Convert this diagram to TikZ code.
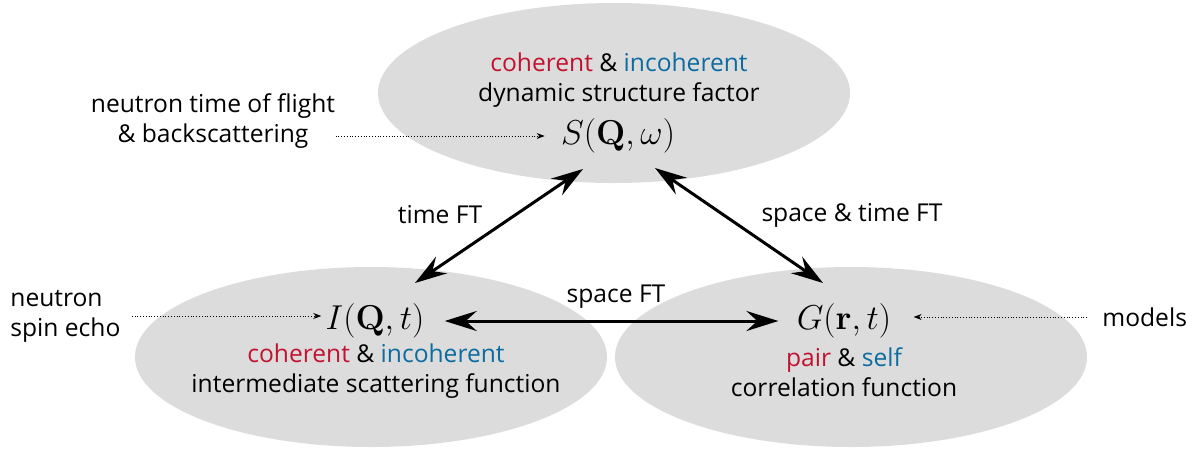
\documentclass[tikz,border=0pt]{standalone}
\usepackage[no-math]{fontspec}
\setmainfont{Open Sans}
\usetikzlibrary{shapes.geometric,arrows.meta}
\definecolor{cohred}{RGB}{193,18,48}
\definecolor{incblue}{RGB}{12,108,160}
\definecolor{blobgray}{RGB}{220,220,220}
\newcommand{\cohtxt}[1]{\textcolor{cohred}{#1}}
\newcommand{\inctxt}[1]{\textcolor{incblue}{#1}}
\begin{document}
\begin{tikzpicture}[x=0.5pt,y=-0.5pt,
    blob/.style={ellipse,fill=blobgray,minimum width=236pt,minimum height=90pt,inner sep=0pt},
    txt/.style={align=center,font=\fontsize{12.3}{15}\selectfont,inner sep=0pt},
    fn/.style={font=\fontsize{18}{21}\selectfont,inner sep=2pt},
    ft/.style={{Stealth[length=16pt,width=10pt,inset=5.5pt]}-{Stealth[length=16pt,width=10pt,inset=5.5pt]},line width=1.5pt},
    probe/.style={-{Stealth[length=4pt,width=3pt]},densely dotted,line width=0.4pt}]
    \useasboundingbox (0,0) rectangle (1186,450);

    % The three functions
    \node[blob] (top) at (614,93) {};
    \node[blob] (left) at (371,357) {};
    \node[blob] (right) at (851,357) {};

    \node[txt] (sqwtxt) at (619,80) {\cohtxt{coherent} \& \inctxt{incoherent}\\dynamic structure factor};
    \node[fn] (sqw) at (618,136) {$S(\mathbf{Q},\omega)$};

    \node[fn] (iqt) at (375,321) {$I(\mathbf{Q},t)$};
    \node[txt] (iqttxt) at (376,371) {\cohtxt{coherent} \& \inctxt{incoherent}\\intermediate scattering function};

    \node[fn] (grt) at (844,321) {$G(\mathbf{r},t)$};
    \node[txt] (grttxt) at (844,372) {\cohtxt{pair} \& \inctxt{self}\\correlation function};

    % Fourier transforms
    \coordinate (sqwL) at (583,169);
    \coordinate (sqwR) at (655,168);
    \coordinate (iqtU) at (415,283);
    \coordinate (grtU) at (823,283);
    \draw[ft] (iqtU) -- (sqwL);
    \draw[ft] (grtU) -- (sqwR);
    \draw[ft,shorten <=8pt,shorten >=7pt] (iqt.east) -- (grt.west);

    \node[txt] (tft) at (440,215) {time FT};
    \node[txt] (stft) at (852,215) {space \& time FT};
    \node[txt] (sft) at (616,297) {space FT};

    % Where the data come from
    \node[txt] (tof) at (213,121) {neutron time of flight\\\& backscattering};
    \node[txt,align=left,anchor=west] (nse) at (10,316) {neutron\\spin echo};
    \node[txt,anchor=west] (models) at (1102,317) {models};

    \draw[probe,shorten >=6pt] (tof.east |- sqw) -- (sqw.west);
    \draw[probe,shorten <=5.5pt] (nse.east) -- (nse.east -| iqt.west);
    \draw[probe,shorten <=7.5pt,shorten >=9pt] (models.west) -- (models.west -| grt.east);
  \end{tikzpicture}
\end{document}
